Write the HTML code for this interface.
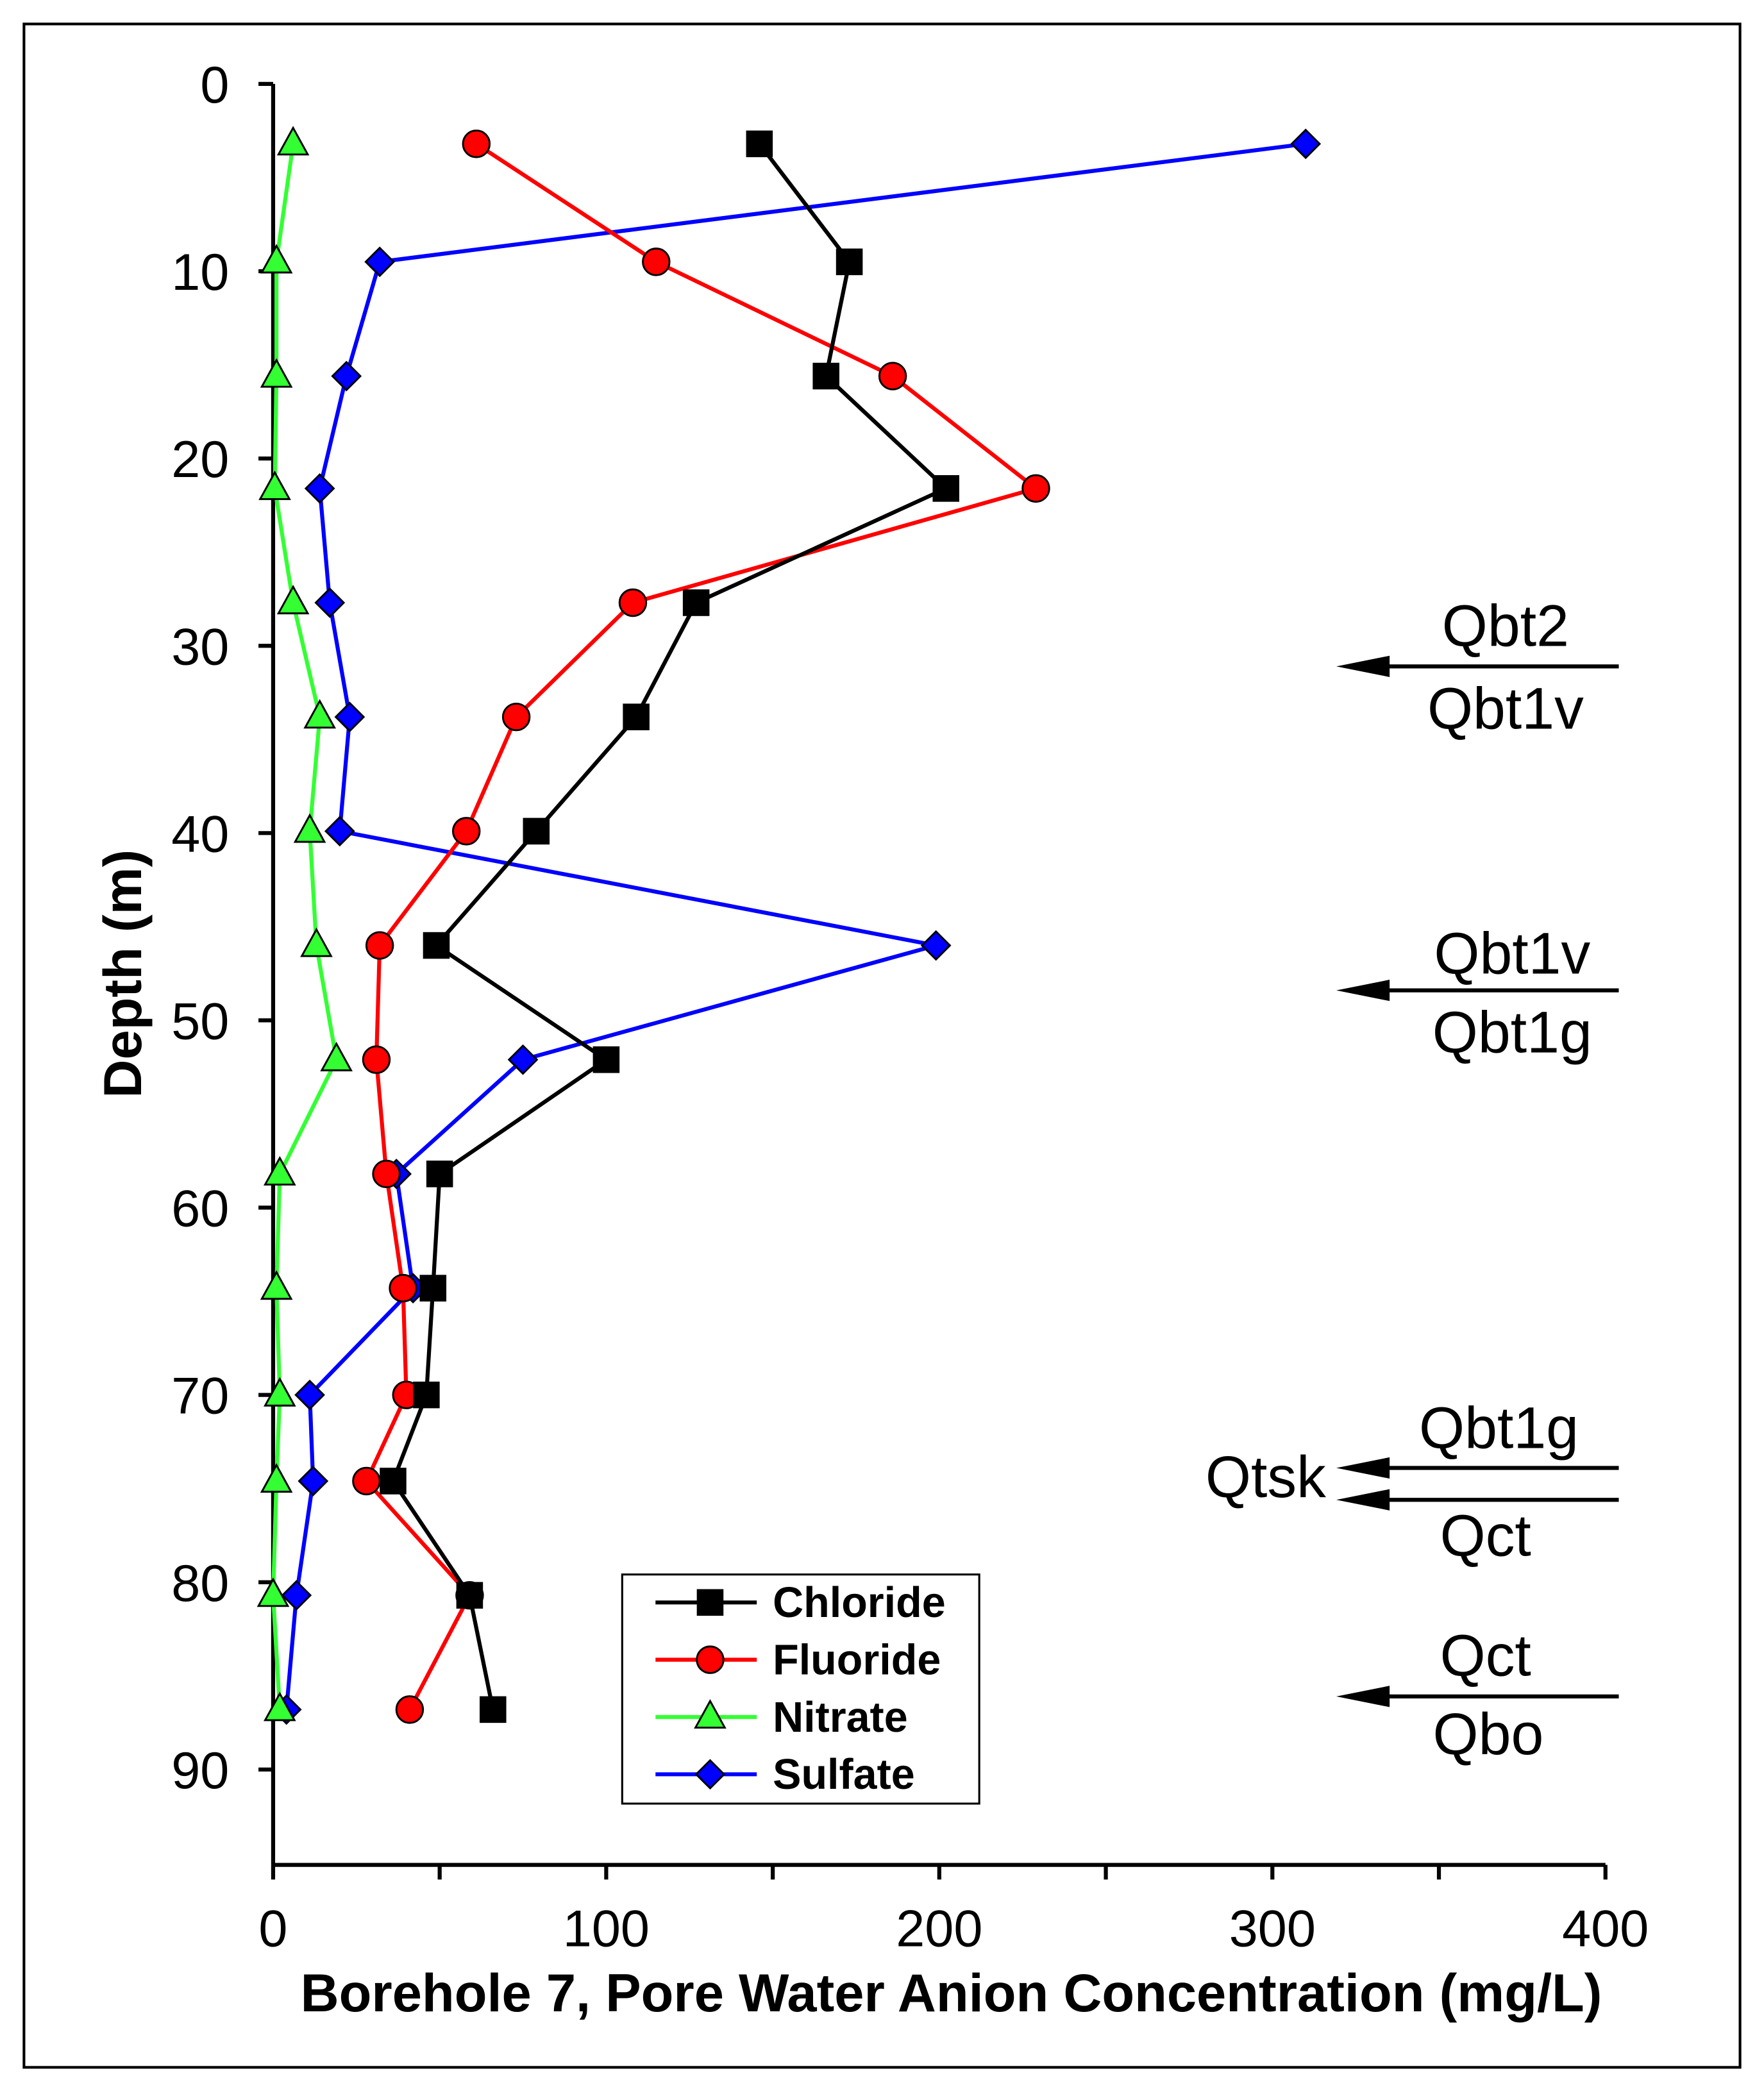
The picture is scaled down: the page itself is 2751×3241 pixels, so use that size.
<!DOCTYPE html>
<html><head><meta charset="utf-8"><style>
html,body{margin:0;padding:0;background:#fff;}
svg{display:block;font-family:"Liberation Sans",Arial,sans-serif;}
</style></head><body>
<svg id="chart" width="2751" height="3241" viewBox="0 0 1324 1560" preserveAspectRatio="none" xmlns="http://www.w3.org/2000/svg">
<rect x="18" y="18" width="1288" height="1534" fill="#fff" stroke="#000" stroke-width="2"/>
<g id="axes"></g>
<g id="series"></g>
<g>
<rect x="467" y="1182" width="268" height="172" fill="#fff" stroke="#000" stroke-width="1.5"/>
<g id="legend-entries"></g>
</g>
<g font-size="44" text-anchor="middle" fill="#000">
<text x="1130" y="485">Qbt2</text>
<text x="1130" y="547">Qbt1v</text>
<text x="1135" y="731">Qbt1v</text>
<text x="1135" y="790">Qbt1g</text>
<text x="1125" y="1087">Qbt1g</text>
<text x="950" y="1124">Qtsk</text>
<text x="1115" y="1168">Qct</text>
<text x="1115" y="1258">Qct</text>
<text x="1117" y="1317">Qbo</text>
<g id="arrows"></g>
</g>
</svg>
<script>
const depths=[3.2,9.5,15.6,21.6,27.7,33.8,39.9,46,52.1,58.2,64.3,70,74.6,80.7,86.8];
const chloride=[146,173,166,202,127,109,79,49,100,50,48,46,36,59,66];
const fluoride=[61,115,186,229,108,73,58,32,31,34,39,40,28,59,41];
const nitrate=[6,1,1,0.5,6,14,11,13,19,2,1,2,1,0,2];
const sulfate=[310,32,22,14,17,23,20,199,75,37,42,11,12,7,4];
const xTicks=[0,100,200,300,400];
const xMinor=[0,50,100,150,200,250,300,350,400];
const yTicks=[0,10,20,30,40,50,60,70,80,90];
const arrowDepths=[31.1,48.4,73.9,75.6,86.1];
const NS="http://www.w3.org/2000/svg";
const X=v=>205+v*2.5, Y=d=>63+d*14.06;
function mk(tag,attrs,parent){const e=document.createElementNS(NS,tag);for(const k in attrs)e.setAttribute(k,attrs[k]);parent.appendChild(e);return e;}
const axes=document.getElementById('axes');
let e=mk('line',{x1:X(0),y1:Y(0),x2:X(0),y2:1400,stroke:'#000','stroke-width':3},axes);


e=mk('line',{x1:X(0),y1:1400,x2:X(400),y2:1400,stroke:'#000','stroke-width':3},axes);


yTicks.forEach(t=>{
 let l=mk('line',{x1:X(0)-11,y1:Y(t),x2:X(0),y2:Y(t),stroke:'#000','stroke-width':3},axes);
 
 
 let tx=mk('text',{x:172,y:Y(t)+14,'font-size':39,'text-anchor':'end'},axes);tx.textContent=t;
 
 
});
xMinor.forEach(t=>{
 let l=mk('line',{x1:X(t),y1:1400,x2:X(t),y2:1411,stroke:'#000','stroke-width':3},axes);
 
 
});
xTicks.forEach(t=>{
 let tx=mk('text',{x:X(t),y:1461,'font-size':39,'text-anchor':'middle'},axes);tx.textContent=t;
 
 
});
e=mk('text',{x:714,y:1510,'font-size':40,'font-weight':'bold','text-anchor':'middle'},axes);
e.textContent='Borehole 7, Pore Water Anion Concentration (mg/L)';


e=mk('text',{x:0,y:0,'font-size':40,'font-weight':'bold','text-anchor':'middle',transform:'translate(106,731) rotate(-90)'},axes);
e.textContent='Depth (m)';



function marker(type,cx,cy,color,g){
 let m;
 if(type==='square')m=mk('rect',{x:cx-9.5,y:cy-9.5,width:19,height:19,fill:color,stroke:'#000','stroke-width':1},g);
 else if(type==='circle')m=mk('circle',{cx:cx,cy:cy,r:10,fill:color,stroke:'#000','stroke-width':1.4},g);
 else if(type==='triangle')m=mk('polygon',{points:`${cx},${cy-12} ${cx+11},${cy+8} ${cx-11},${cy+8}`,fill:color,stroke:'#000','stroke-width':1.4},g);
 else m=mk('polygon',{points:`${cx},${cy-10.5} ${cx+10.5},${cy} ${cx},${cy+10.5} ${cx-10.5},${cy}`,fill:color,stroke:'#000','stroke-width':1.4},g);
 return m;
}
const series=[
 {name:'Chloride',vals:chloride,line:'#000',fill:'#000',m:'square'},
 {name:'Fluoride',vals:fluoride,line:'#ff0000',fill:'#ff0000',m:'circle'},
 {name:'Nitrate',vals:nitrate,line:'#33ff33',fill:'#33ff33',m:'triangle'},
 {name:'Sulfate',vals:sulfate,line:'#0000ff',fill:'#0000ff',m:'diamond'}];
const sg=document.getElementById('series');
series.slice().reverse().forEach(s=>{
 const g=mk('g',{},sg);
 
 
 const pl=mk('polyline',{points:s.vals.map((v,i)=>X(v)+','+Y(depths[i])).join(' '),fill:'none',stroke:s.line,'stroke-width':3},g);
 
 
 s.vals.forEach((v,i)=>{const m=marker(s.m,X(v),Y(depths[i]),s.fill,g);
  
  });
});
const lg=document.getElementById('legend-entries');
series.forEach((s,i)=>{
 const y=1203+i*43;
 const g=mk('g',{},lg);
 
 
 mk('line',{x1:492,y1:y,x2:568,y2:y,stroke:s.line,'stroke-width':3},g);
 marker(s.m,533,y,s.fill,g);
 const t=mk('text',{x:580,y:y+11,'font-size':32,'font-weight':'bold'},g);t.textContent=s.name;
});
const ag=document.getElementById('arrows');
arrowDepths.forEach(d=>{
 const y=Y(d);
 const g=mk('g',{},ag);
 
 
 mk('line',{x1:1030,y1:y,x2:1215,y2:y,stroke:'#000','stroke-width':3},g);
 mk('polygon',{points:`1003,${y} 1043,${y-8} 1043,${y+8}`,fill:'#000'},g);
});
</script>
</body></html>
